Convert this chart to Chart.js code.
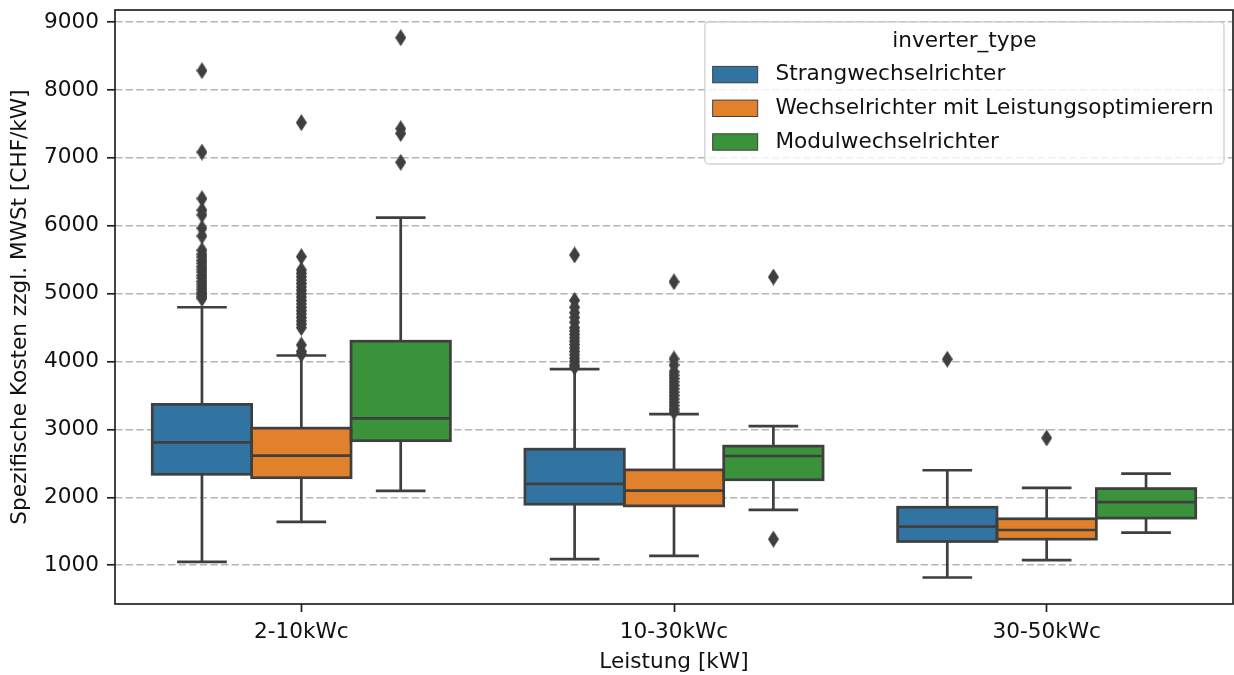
<!DOCTYPE html>
<html>
<head>
<meta charset="utf-8">
<script src="https://cdn.jsdelivr.net/npm/chart.js@4.4.1/dist/chart.umd.min.js"></script>
<style>
  html, body { margin: 0; padding: 0; background: #fff; overflow: hidden; }
  #wrap { width: 1240px; height: 675px; }
</style>
</head>
<body>
<div id="wrap"><canvas id="chart" width="1240" height="675"></canvas></div>
<script>
// categories / series
const categories = ['2-10kWc', '10-30kWc', '30-50kWc'];
const seriesNames = ['Strangwechselrichter', 'Wechselrichter mit Leistungsoptimierern', 'Modulwechselrichter'];
const seriesColors = ['#3274a1', '#e1812c', '#3a923a'];
const yTicks = [1000, 2000, 3000, 4000, 5000, 6000, 7000, 8000, 9000];

// [lower whisker, Q1, median, Q3, upper whisker] per category
const strangStats = [[1050, 2340, 2810, 3370, 4800], [1090, 1900, 2200, 2710, 3890], [820, 1350, 1570, 1855, 2400]];
const optimStats  = [[1640, 2290, 2615, 3020, 4090], [1140, 1875, 2100, 2405, 3225], [1075, 1385, 1520, 1685, 2140]];
const modulStats  = [[2095, 2835, 3165, 4300, 6120], [1815, 2260, 2610, 2755, 3050], [1480, 1695, 1930, 2130, 2350]];

// outliers per category
const strangOutliers = [
  [8285, 7085, 6400, 6230, 6160, 5965, 5850, 5640, 5580, 5540, 5490, 5450, 5400, 5360, 5320, 5270, 5230, 5180, 5140, 5100, 5060, 5020, 4990, 4960, 4930],
  [5570, 4900, 4800, 4720, 4650, 4580, 4500, 4450, 4400, 4350, 4300, 4250, 4200, 4150, 4100, 4050, 4000, 3950, 3920],
  [4035]
];
const optimOutliers = [
  [7520, 5545, 5350, 5300, 5250, 5200, 5150, 5100, 5050, 5000, 4950, 4900, 4850, 4800, 4750, 4700, 4650, 4600, 4550, 4500, 4245, 4150, 4110],
  [5175, 4040, 3950, 3850, 3800, 3750, 3700, 3650, 3600, 3550, 3500, 3450, 3400, 3350, 3300, 3260],
  [2875]
];
const modulOutliers = [
  [8770, 7430, 7360, 6935],
  [5245, 1385],
  []
];

const statsBySeries = [strangStats, optimStats, modulStats];
const outliersBySeries = [strangOutliers, optimOutliers, modulOutliers];

const FONT = { family: 'DejaVu Sans', size: 21.6 };
const TEXT = '#111';
const LINE = '#3f3f3f';
const dodge = 0.8 / seriesNames.length;
const xPos = (i, j) => i + (j - 1) * dodge;

// thin diamond marker like matplotlib 'd'
const diamond = document.createElement('canvas');
diamond.width = 11; diamond.height = 17;
(() => {
  const c = diamond.getContext('2d');
  c.fillStyle = LINE;
  c.beginPath();
  c.moveTo(5.5, 0); c.lineTo(11, 8.5); c.lineTo(5.5, 17); c.lineTo(0, 8.5);
  c.closePath(); c.fill();
})();

const boxSets = seriesNames.map((name, j) => ({
  type: 'bar',
  label: name,
  data: statsBySeries[j].map((s, i) => ({ x: xPos(i, j), y: [s[1], s[3]] })),
  backgroundColor: seriesColors[j],
  borderWidth: 0,
  grouped: false,
  categoryPercentage: 1,
  barPercentage: 1,
  order: 2
}));

const outlierSets = seriesNames.map((name, j) => ({
  type: 'scatter',
  label: name + ' outliers',
  data: outliersBySeries[j].flatMap((vals, i) => vals.map(v => ({ x: xPos(i, j), y: v }))),
  pointStyle: diamond,
  pointRadius: 6,
  order: 1
}));

// whiskers, caps, medians and box outlines
const boxLines = {
  id: 'boxLines',
  afterDatasetsDraw(chart) {
    const ctx = chart.ctx, y = chart.scales.y;
    ctx.save();
    ctx.strokeStyle = LINE;
    ctx.lineWidth = 2.7;
    statsBySeries.forEach((stats, j) => {
      chart.getDatasetMeta(j).data.forEach((bar, i) => {
        const x = bar.x, w = bar.width;
        const [lo, q1, med, q3, hi] = stats[i].map(v => y.getPixelForValue(v));
        ctx.beginPath();
        ctx.moveTo(x, q1); ctx.lineTo(x, lo);
        ctx.moveTo(x, q3); ctx.lineTo(x, hi);
        ctx.moveTo(x - w / 4, lo); ctx.lineTo(x + w / 4, lo);
        ctx.moveTo(x - w / 4, hi); ctx.lineTo(x + w / 4, hi);
        ctx.moveTo(x - w / 2, med); ctx.lineTo(x + w / 2, med);
        ctx.stroke();
        ctx.strokeRect(x - w / 2, q3, w, q1 - q3);
      });
    });
    ctx.restore();
  }
};

// axes frame on all four sides
const frame = {
  id: 'frame',
  beforeDatasetsDraw(chart) {
    const { ctx, chartArea: a } = chart;
    ctx.save();
    ctx.strokeStyle = '#222';
    ctx.lineWidth = 1.7;
    ctx.strokeRect(a.left, a.top, a.right - a.left, a.bottom - a.top);
    ctx.restore();
  }
};

// legend box in the upper right, with title
const legendBox = {
  id: 'legendBox',
  afterDraw(chart) {
    const { ctx, chartArea: a } = chart;
    ctx.save();
    ctx.font = `${FONT.size}px "${FONT.family}"`;
    const textW = Math.max(...seriesNames.map(n => ctx.measureText(n).width));
    const w = 7.8 + 45 + 17.8 + textW + 10.2, h = 142;
    const right = a.right - 9, left = right - w, top = a.top + 12;
    ctx.beginPath();
    ctx.roundRect(left, top, w, h, 4);
    ctx.fillStyle = 'rgba(255,255,255,0.8)';
    ctx.fill();
    ctx.strokeStyle = '#d0d0d0';
    ctx.lineWidth = 1.3;
    ctx.stroke();
    ctx.fillStyle = TEXT;
    ctx.textBaseline = 'middle';
    ctx.textAlign = 'center';
    ctx.fillText('inverter_type', left + w / 2, top + 19.5);
    ctx.textAlign = 'left';
    seriesNames.forEach((name, j) => {
      const cy = top + 52.6 + j * 33.7;
      ctx.fillStyle = seriesColors[j];
      ctx.fillRect(left + 7.8, cy - 8.2, 45, 16.4);
      ctx.strokeStyle = LINE;
      ctx.lineWidth = 1;
      ctx.strokeRect(left + 7.8, cy - 8.2, 45, 16.4);
      ctx.fillStyle = TEXT;
      ctx.fillText(name, left + 7.8 + 45 + 17.8, cy);
    });
    ctx.restore();
  }
};

new Chart(document.getElementById('chart'), {
  type: 'bar',
  data: { datasets: [...boxSets, ...outlierSets] },
  options: {
    responsive: false,
    animation: false,
    layout: { padding: { top: 10, right: 5, bottom: 0, left: 0 } },
    plugins: { legend: { display: false }, tooltip: { enabled: false } },
    scales: {
      x: {
        type: 'linear',
        min: -0.5,
        max: 2.5,
        offset: false,
        afterBuildTicks: s => { s.ticks = categories.map((_, i) => ({ value: i })); },
        grid: { display: true, drawOnChartArea: false, offset: false, tickLength: 8, tickWidth: 1.7, tickColor: '#222' },
        border: { display: false },
        ticks: { font: FONT, color: TEXT, padding: 7, callback: v => categories[v] },
        title: { display: true, text: 'Leistung [kW]', font: FONT, color: TEXT, padding: { top: 0, bottom: 0 } },
        afterFit: s => { s.height = 71; s.paddingLeft = 0; s.paddingRight = 0; }
      },
      y: {
        type: 'linear',
        min: 430,
        max: 9178,
        afterBuildTicks: s => { s.ticks = yTicks.map(v => ({ value: v })); },
        grid: { color: '#b5b5b5', lineWidth: 1.6, tickLength: 8, tickWidth: 1.7, tickColor: '#222' },
        border: { display: false, dash: [7.4, 3.2] },
        ticks: { font: FONT, color: TEXT, padding: 8, callback: v => String(v) },
        title: { display: true, text: 'Spezifische Kosten zzgl. MWSt [CHF/kW]', font: FONT, color: TEXT, padding: { top: 7, bottom: 0 } },
        afterFit: s => { s.width = 115; s.paddingTop = 0; s.paddingBottom = 0; }
      }
    }
  },
  plugins: [frame, boxLines, legendBox]
});
</script>
</body>
</html>
